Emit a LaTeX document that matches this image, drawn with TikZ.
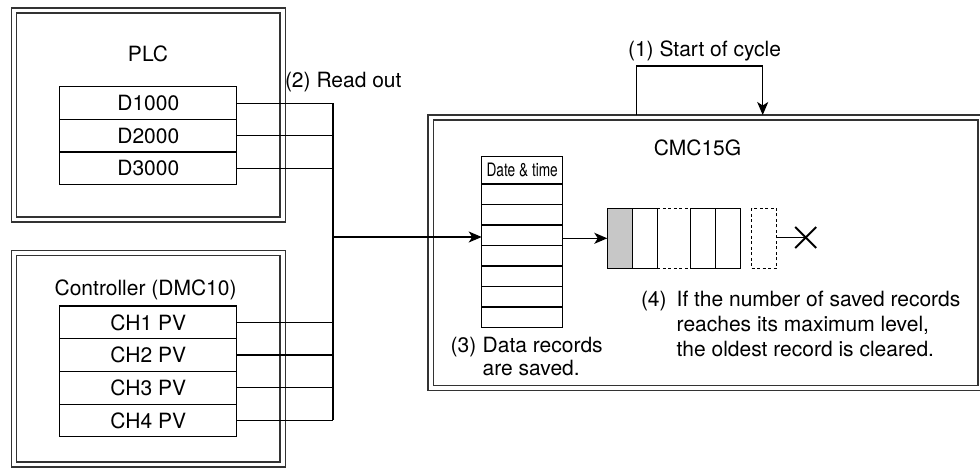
\documentclass[tikz,border=0pt]{standalone}
\usepackage{fontspec}
\setmainfont{TeX Gyre Heros}
\usetikzlibrary{arrows.meta}
\begin{document}
\begin{tikzpicture}[x=1pt,y=-1pt,
  every node/.style={font=\fontsize{21}{25}\selectfont, inner sep=0pt, outer sep=0pt},
  frame/.style={draw=black!80, line width=1.4pt, anchor=north west},
  reg/.style={draw, line width=1.2pt, minimum width=177pt, minimum height=32.7pt},
  dtrow/.style={draw, line width=1.2pt, minimum width=81pt, minimum height=20.5pt, anchor=north west},
  cell/.style={draw, line width=1.2pt, minimum width=25pt, minimum height=60pt, anchor=north west},
  arr/.style={-{Stealth[length=13pt,width=11pt,inset=3.5pt]}, line width=1.2pt},
  wire/.style={line width=1.2pt},
  lbl/.style={anchor=base west}]
\useasboundingbox (0,0) rectangle (980,467);
\clip (0,0) rectangle (980,467);
\fill[white] (0,0) rectangle (980,467);

% PLC
\node[frame, minimum width=274pt, minimum height=214pt] (plcout) at (11.7,8) {};
\node[frame, minimum width=263.3pt, minimum height=204pt] (plcin) at (16.7,13) {};
\node[anchor=base] (plc) at (148,61) {PLC};
\node[reg] (d1) at (148.3,103.2) {D1000};
\node[reg] (d2) at (148.3,135.8) {D2000};
\node[reg] (d3) at (148.3,168.4) {D3000};

% Controller
\node[frame, minimum width=274pt, minimum height=216.3pt] (ctout) at (11.7,250.7) {};
\node[frame, minimum width=263.3pt, minimum height=206.7pt] (ctin) at (16.7,255.3) {};
\node[anchor=base] (ctl) at (145.6,295) {Controller (DMC10)};
\node[reg] (c1) at (148.3,322.35) {CH1 PV};
\node[reg] (c2) at (148.3,355.05) {CH2 PV};
\node[reg] (c3) at (148.3,387.75) {CH3 PV};
\node[reg] (c4) at (148.3,420.45) {CH4 PV};

% bus
\coordinate (bustop) at (333,103.2);
\coordinate (busbot) at (333,420.45);
\coordinate (jn) at (333,237);
\draw[wire] (bustop) -- (busbot);
\foreach \n in {d1,d2,d3,c1,c2,c3,c4}{
  \draw[wire] (\n.east) -- (\n.east -| bustop);
}
\node[lbl] (readout) at (285,87) {(2) Read out};

% CMC15G
\node[frame, minimum width=555pt, minimum height=275.5pt] (cmcout) at (428,115) {};
\node[frame, minimum width=544.5pt, minimum height=265.7pt] (cmcin) at (433.5,119.8) {};
\node[anchor=base] (cmc) at (697.5,155.8) {CMC15G};

% start of cycle loop
\coordinate (lpa) at (636.7,115);
\coordinate (lpb) at (762.7,115);
\draw[arr] (lpa) -- ++(0,-49) -| (lpb);
\node[lbl] (start) at (628,56) {(1) Start of cycle};

% date & time table
\node[dtrow, minimum height=27pt, font=\fontsize{18.5}{20}\selectfont] (dth) at (481.7,156.7) {\scalebox{0.74}[1]{Date \& time}};
\node[dtrow] (r1) at (481.7,183.7) {};
\node[dtrow] (r2) at (481.7,204.2) {};
\node[dtrow] (r3) at (481.7,224.7) {};
\node[dtrow] (r4) at (481.7,245.2) {};
\node[dtrow] (r5) at (481.7,265.7) {};
\node[dtrow] (r6) at (481.7,286.2) {};
\node[dtrow] (r7) at (481.7,306.7) {};
\foreach \n in {r1,r3,r5,r7}{
  \draw[line width=2pt] (\n.north west) -- (\n.north east);
}
\draw[arr] (jn) -- (jn -| dth.west);

% queue
\node[cell, fill=black!22] (q1) at (607.3,208.3) {};
\node[cell] (q2) at (632.3,208.3) {};
\node[cell] (q3) at (690.3,208.3) {};
\node[cell] (q4) at (715.3,208.3) {};
\node[cell, dashed, dash pattern=on 3pt off 2.5pt] (q5) at (751.7,208.3) {};
\draw[line width=1.2pt, dash pattern=on 3pt off 2.5pt] (q2.north east) -- (q3.north west);
\draw[line width=1.2pt, dash pattern=on 3pt off 2.5pt] (q2.south east) -- (q3.south west);
\draw[arr] (dth.east |- q1.west) -- (q1.west);
\node (xm) at (805.7,237.5) {};
\draw[line width=1pt] (q5.east |- xm.center) -- (xm.center);
\draw[line width=2pt] ([shift={(-10.5,-10.5)}]xm.center) -- ([shift={(10.5,10.5)}]xm.center);
\draw[line width=2pt] ([shift={(-10.5,10.5)}]xm.center) -- ([shift={(10.5,-10.5)}]xm.center);

% notes
\node[lbl] (n3) at (450.7,352.3) {(3)};
\node[lbl] (n3a) at (482.7,352.3) {Data records};
\node[lbl] (n3b) at (482.7,375) {are saved.};
\node[lbl] (n4) at (641,306.7) {(4)};
\node[lbl] (n4a) at (676.7,306.7) {If the number of saved records};
\node[lbl] (n4b) at (676.7,331.7) {reaches its maximum level,};
\node[lbl] (n4c) at (676.7,356.7) {the oldest record is cleared.};
\end{tikzpicture}
\end{document}
